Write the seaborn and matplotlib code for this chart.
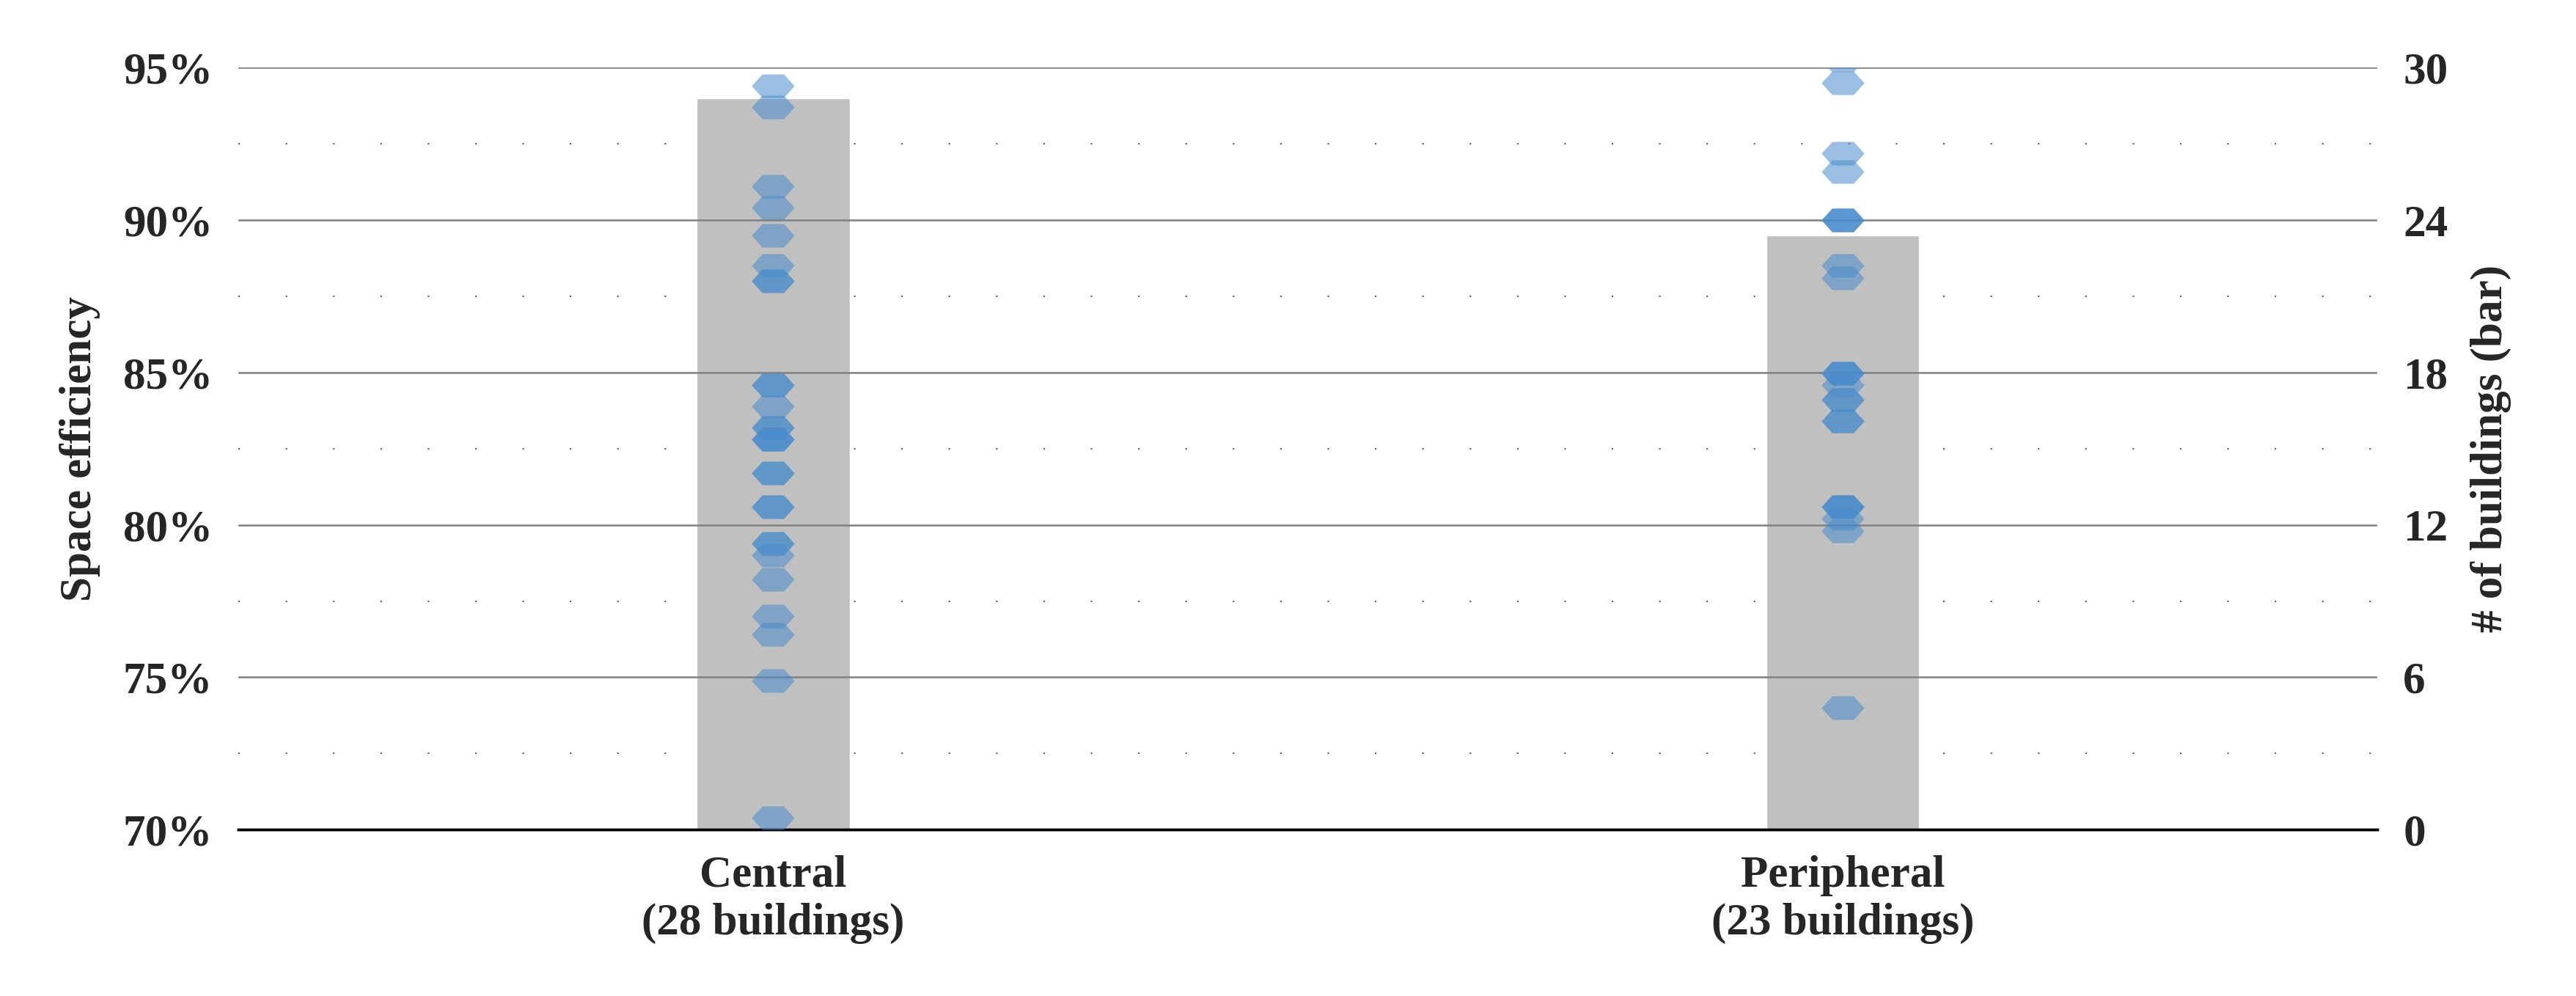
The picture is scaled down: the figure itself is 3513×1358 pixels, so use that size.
import matplotlib
matplotlib.use("Agg")
import matplotlib.pyplot as plt
import seaborn as sns
import numpy as np
import pandas as pd

categories = ["Central\n(28 buildings)", "Peripheral\n(23 buildings)"]
bar_counts = [28.8, 23.4]
central_eff = [94.4, 93.7, 91.1, 90.4, 89.5, 88.5, 88.0, 88.0, 84.6, 84.6, 83.9,
               83.2, 83.2, 82.8, 82.8, 82.8, 81.7, 81.7, 80.6, 80.6, 79.4, 79.4,
               79.0, 78.2, 77.0, 76.4, 74.9, 70.4]
peripheral_eff = [95.25, 94.5, 92.2, 91.6, 90.0, 90.0, 90.0, 88.5, 88.1, 84.97,
                  84.97, 84.97, 84.6, 84.1, 84.1, 83.4, 83.4, 80.6, 80.6, 80.6,
                  80.2, 79.8, 74.0]

sns.set_style("white")
plt.rcParams['font.family'] = ['Liberation Serif', 'DejaVu Serif']
plt.rcParams['font.weight'] = 'bold'
FS = 44

fig = plt.figure(figsize=(35.13, 13.58), dpi=100)
ax = fig.add_axes([0.0925, 0.167, 0.8305, 0.765])
bars = pd.DataFrame({"cat": categories, "n": bar_counts})
sns.barplot(data=bars, x="cat", y="n", ax=ax, color="#c0c0c0", width=0.143,
            saturation=1, zorder=2)
ax.set_ylim(0, 30)
ax.set_xlim(-0.5, 1.5)
ax.set_xlabel("")

for v in [0, 6, 12, 18, 24, 30]:
    ax.axhline(v, color="#808080", lw=1.8, zorder=3)
for v in [3, 9, 15, 21, 27]:
    ax.axhline(v, color="#606060", lw=1.5, ls=(0, (1, 30)), zorder=1)

ax2 = ax.twinx()
pts = pd.DataFrame({
    "cat": [categories[0]] * len(central_eff) + [categories[1]] * len(peripheral_eff),
    "eff": central_eff + peripheral_eff,
})
hexm = [(-1, 0), (-0.5, 0.55), (0.5, 0.55), (1, 0), (0.5, -0.55), (-0.5, -0.55), (-1, 0)]
sns.stripplot(data=pts, x="cat", y="eff", ax=ax2, jitter=False, color="#4a8ccc",
              alpha=0.55, marker=hexm, s=42, linewidth=0, zorder=5)
ax2.set_ylim(70, 95)
ax2.set_xlim(-0.5, 1.5)
ax2.set_xlabel("")

# right axis: counts (bar axis); left axis: percentages
ax.set_yticks([0, 6, 12, 18, 24, 30])
ax.yaxis.tick_right()
ax.yaxis.set_label_position("right")
ax.set_ylabel("# of buildings (bar)", fontsize=FS, fontweight='bold', labelpad=22)
ax.tick_params(axis='y', labelsize=FS, length=0, pad=25, left=False, labelleft=False,
               right=True, labelright=True)
ax.tick_params(axis='x', labelsize=FS, length=0, pad=25)

ax2.set_yticks([70, 75, 80, 85, 90, 95])
ax2.set_yticklabels([f"{v}%" for v in [70, 75, 80, 85, 90, 95]])
ax2.yaxis.tick_left()
ax2.yaxis.set_label_position("left")
ax2.set_ylabel("Space efficiency", fontsize=FS, fontweight='bold', labelpad=22)
ax2.tick_params(axis='y', labelsize=FS, length=0, pad=25, right=False, labelright=False,
                left=True, labelleft=True)

for a in (ax, ax2):
    for s in ["top", "left", "right"]:
        a.spines[s].set_visible(False)
    a.spines["bottom"].set_color("black")
    a.spines["bottom"].set_linewidth(2.5)
for lab in ax.get_xticklabels() + ax.get_yticklabels() + ax2.get_yticklabels():
    lab.set_fontweight('bold')

fig.savefig("out.png", dpi=100)
